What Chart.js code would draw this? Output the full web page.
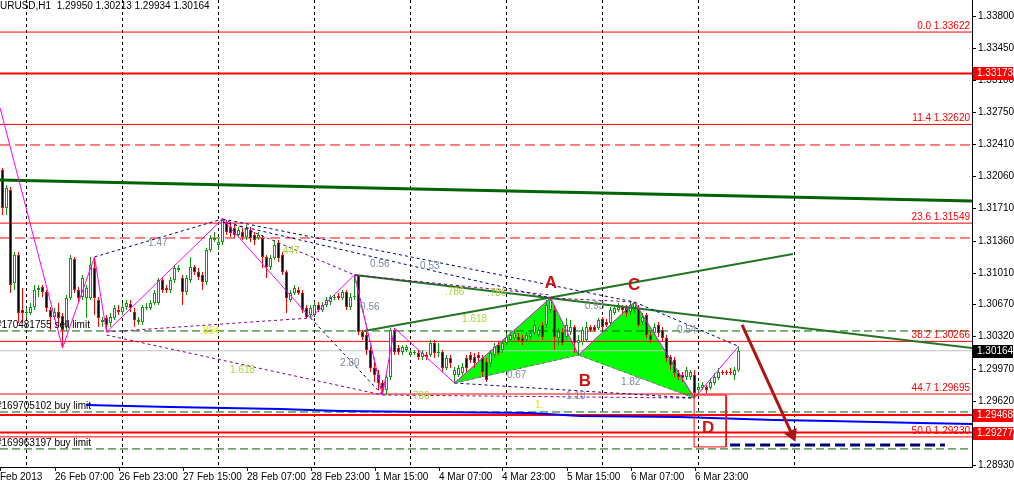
<!DOCTYPE html>
<html>
<head>
<meta charset="utf-8">
<script src="https://cdn.jsdelivr.net/npm/chart.js@4.4.1/dist/chart.umd.min.js"></script>
<style>
  html, body { margin: 0; padding: 0; background: #fff; }
  canvas { display: block; }
</style>
</head>
<body>
<canvas id="chart" width="1014" height="486"></canvas>
<script>
// EURUSD H1, one row per bar: [open, high, low, close]
const candles = [
  [1.32126,1.32147,1.31637,1.31713],[1.31713,1.31963,1.31637,1.31930],[1.31909,1.31941,1.30791,1.30878],
  [1.30900,1.31236,1.30824,1.31203],[1.31203,1.31236,1.30466,1.30574],[1.30607,1.30845,1.30466,1.30574],
  [1.30574,1.30628,1.30520,1.30585],[1.30574,1.30682,1.30552,1.30639],[1.30639,1.30878,1.30607,1.30824],
  [1.30824,1.30878,1.30748,1.30845],[1.30856,1.30878,1.30748,1.30802],[1.30802,1.30824,1.30585,1.30628],
  [1.30607,1.30639,1.30390,1.30531],[1.30531,1.30628,1.30498,1.30585],[1.30585,1.30682,1.30422,1.30520],
  [1.30541,1.30574,1.30194,1.30390],[1.30422,1.30769,1.30390,1.30737],[1.30737,1.31203,1.30715,1.31171],
  [1.31160,1.31182,1.30791,1.30824],[1.30824,1.30856,1.30682,1.30737],[1.30748,1.30986,1.30715,1.30954],
  [1.30737,1.30878,1.30520,1.30845],[1.30737,1.31182,1.30715,1.31095],[1.31062,1.31182,1.30552,1.30737],
  [1.30715,1.30748,1.30422,1.30520],[1.30476,1.30531,1.30422,1.30498],[1.30520,1.30552,1.30368,1.30444],
  [1.30466,1.30574,1.30422,1.30531],[1.30520,1.30661,1.30498,1.30628],[1.30607,1.30661,1.30552,1.30585],
  [1.30585,1.30682,1.30552,1.30639],[1.30639,1.30715,1.30607,1.30682],[1.30672,1.30715,1.30585,1.30628],
  [1.30585,1.30628,1.30422,1.30498],[1.30476,1.30531,1.30444,1.30498],[1.30476,1.30661,1.30444,1.30639],
  [1.30628,1.30682,1.30607,1.30639],[1.30628,1.30715,1.30607,1.30682],[1.30682,1.30824,1.30661,1.30791],
  [1.30682,1.30954,1.30661,1.30932],[1.30932,1.30954,1.30791,1.30824],[1.30845,1.30878,1.30791,1.30824],
  [1.30824,1.30965,1.30791,1.30932],[1.30932,1.31095,1.30900,1.31062],[1.31041,1.31095,1.31019,1.31062],
  [1.30954,1.30986,1.30661,1.30802],[1.30802,1.30986,1.30769,1.30954],[1.30932,1.31182,1.30900,1.31073],
  [1.31073,1.31095,1.30986,1.31019],[1.31019,1.31062,1.30932,1.30965],[1.30986,1.31019,1.30824,1.30910],
  [1.30910,1.31279,1.30878,1.31258],[1.31258,1.31420,1.31236,1.31388],[1.31366,1.31453,1.31344,1.31388],
  [1.31312,1.31388,1.31258,1.31344],[1.31344,1.31594,1.31312,1.31583],[1.31561,1.31583,1.31420,1.31453],
  [1.31507,1.31561,1.31399,1.31442],[1.31496,1.31529,1.31388,1.31420],[1.31420,1.31507,1.31388,1.31475],
  [1.31453,1.31496,1.31366,1.31399],[1.31399,1.31529,1.31366,1.31496],[1.31475,1.31507,1.31344,1.31388],
  [1.31420,1.31453,1.31312,1.31366],[1.31388,1.31453,1.31366,1.31420],[1.31388,1.31420,1.31062,1.31182],
  [1.31182,1.31203,1.30954,1.31073],[1.31073,1.31203,1.31041,1.31171],[1.31171,1.31366,1.31149,1.31312],
  [1.31334,1.31366,1.31127,1.31171],[1.31203,1.31236,1.30986,1.31019],[1.31019,1.31041,1.30574,1.30737],
  [1.30715,1.30824,1.30693,1.30791],[1.30791,1.30878,1.30769,1.30845],[1.30824,1.30856,1.30769,1.30791],
  [1.30791,1.30824,1.30574,1.30607],[1.30628,1.30661,1.30520,1.30531],[1.30552,1.30661,1.30520,1.30628],
  [1.30552,1.30693,1.30531,1.30661],[1.30661,1.30693,1.30585,1.30607],[1.30607,1.30693,1.30585,1.30661],
  [1.30661,1.30748,1.30639,1.30715],[1.30693,1.30769,1.30661,1.30748],[1.30737,1.30769,1.30715,1.30748],
  [1.30758,1.30791,1.30715,1.30737],[1.30737,1.30824,1.30715,1.30802],[1.30802,1.30824,1.30607,1.30639],
  [1.30639,1.30791,1.30607,1.30748],[1.30748,1.30986,1.30715,1.30748],[1.30986,1.30986,1.30335,1.30368],
  [1.30368,1.30390,1.30281,1.30314],[1.30335,1.30368,1.30118,1.30173],[1.30173,1.30205,1.29934,1.29977],
  [1.29977,1.30042,1.29825,1.29901],[1.29901,1.29955,1.29738,1.29814],[1.29814,1.29847,1.29684,1.29760],
  [1.29738,1.29901,1.29684,1.29879],[1.29879,1.30411,1.29847,1.30390],[1.30390,1.30411,1.30118,1.30151],
  [1.30194,1.30227,1.30118,1.30151],[1.30151,1.30227,1.30118,1.30205],[1.30173,1.30227,1.30151,1.30205],
  [1.30118,1.30173,1.30097,1.30151],[1.30140,1.30173,1.30118,1.30151],[1.30140,1.30173,1.30064,1.30097],
  [1.30097,1.30173,1.30064,1.30140],[1.30118,1.30151,1.30064,1.30097],[1.30118,1.30281,1.30097,1.30249],
  [1.30249,1.30281,1.30086,1.30140],[1.30140,1.30249,1.30097,1.30140],[1.30151,1.30173,1.29934,1.29977],
  [1.29977,1.30118,1.29955,1.30086],[1.30086,1.30118,1.29977,1.30031],[1.29901,1.29988,1.29814,1.29955],
  [1.29901,1.30010,1.29879,1.29977],[1.29923,1.30031,1.29901,1.29988],[1.30086,1.30118,1.29934,1.29977],
  [1.30118,1.30151,1.30031,1.30064],[1.30097,1.30140,1.29977,1.30031],[1.30118,1.30151,1.30042,1.30086],
  [1.30086,1.30118,1.29879,1.29934],[1.30042,1.30086,1.29825,1.29847],[1.30031,1.30173,1.29988,1.30140],
  [1.30118,1.30249,1.30086,1.30205],[1.30227,1.30259,1.30118,1.30140],[1.30173,1.30281,1.30140,1.30249],
  [1.30249,1.30357,1.30227,1.30314],[1.30281,1.30368,1.30259,1.30335],[1.30303,1.30390,1.30281,1.30357],
  [1.30314,1.30357,1.30259,1.30281],[1.30303,1.30335,1.30227,1.30259],[1.30281,1.30368,1.30259,1.30335],
  [1.30314,1.30390,1.30281,1.30357],[1.30357,1.30498,1.30335,1.30444],[1.30335,1.30422,1.30314,1.30390],
  [1.30444,1.30476,1.30281,1.30314],[1.30444,1.30715,1.30411,1.30661],[1.30607,1.30737,1.30574,1.30715],
  [1.30607,1.30661,1.30173,1.30314],[1.30303,1.30411,1.30227,1.30368],[1.30368,1.30411,1.30227,1.30249],
  [1.30314,1.30520,1.30281,1.30444],[1.30368,1.30498,1.30335,1.30422],[1.30422,1.30444,1.30140,1.30249],
  [1.30249,1.30335,1.30118,1.30281],[1.30259,1.30422,1.30227,1.30390],[1.30281,1.30476,1.30259,1.30422],
  [1.30422,1.30444,1.30368,1.30390],[1.30422,1.30444,1.30368,1.30390],[1.30411,1.30520,1.30390,1.30498],
  [1.30509,1.30531,1.30390,1.30422],[1.30476,1.30509,1.30422,1.30444],[1.30466,1.30639,1.30444,1.30607],
  [1.30574,1.30661,1.30552,1.30628],[1.30607,1.30682,1.30585,1.30639],[1.30639,1.30661,1.30574,1.30607],
  [1.30628,1.30661,1.30531,1.30574],[1.30585,1.30693,1.30552,1.30661],[1.30607,1.30693,1.30574,1.30682],
  [1.30628,1.30661,1.30422,1.30444],[1.30476,1.30574,1.30444,1.30531],[1.30552,1.30574,1.30303,1.30335],
  [1.30335,1.30368,1.30249,1.30281],[1.30357,1.30466,1.30335,1.30422],[1.30444,1.30476,1.30314,1.30357],
  [1.30390,1.30422,1.30259,1.30303],[1.30303,1.30335,1.30042,1.30086],[1.30097,1.30118,1.29955,1.30010],
  [1.30064,1.30097,1.29879,1.29923],[1.29923,1.29955,1.29847,1.29879],[1.29901,1.29934,1.29825,1.29868],
  [1.29879,1.29988,1.29847,1.29955],[1.29879,1.29955,1.29847,1.29934],[1.29901,1.29955,1.29651,1.29705],
  [1.29738,1.29814,1.29684,1.29770],[1.29760,1.29825,1.29738,1.29792],[1.29770,1.29792,1.29705,1.29738],
  [1.29760,1.29868,1.29738,1.29825],[1.29814,1.29923,1.29792,1.29879],[1.29868,1.29977,1.29847,1.29934],
  [1.29934,1.29955,1.29901,1.29923],[1.29934,1.29955,1.29901,1.29923],[1.29934,1.29977,1.29901,1.29923],
  [1.29901,1.29988,1.29847,1.29955],[1.29950,1.30213,1.29934,1.30164]
];

// time axis (bar index -> label), day separators and price ticks
const timeTicks = [-0.6, 13, 29, 45, 61, 77, 93, 109, 125, 141, 157, 173];
const timeLabels = ['Feb 2013', '26 Feb 07:00', '26 Feb 23:00', '27 Feb 15:00', '28 Feb 07:00', '28 Feb 23:00',
  '1 Mar 15:00', '4 Mar 07:00', '4 Mar 23:00', '5 Mar 15:00', '6 Mar 07:00', '6 Mar 23:00'];
const daySeparators = [6, 30, 54, 78, 102, 126, 150, 174, 198];
const priceTicks = [1.33800, 1.33450, 1.33100, 1.32750, 1.32410, 1.32060, 1.31710, 1.31360, 1.31010,
  1.30670, 1.30320, 1.29970, 1.29620, 1.29270, 1.28930];

// horizontal levels
const fibLevels = ['0.0', '11.4', '23.6', '38.2', '44.7', '50.0'];
const fibPrices = [1.33622, 1.32620, 1.31549, 1.30266, 1.29695, 1.29230];
const boldRedPrices = [1.33173, 1.29468, 1.29277];
const dashRedPrices = [1.32397, 1.31388];
const orderPrices = [1.30379, 1.29500, 1.29099];
const orderNames = ['#170481755 sell limit', '#169705102 buy limit', '#169963197 buy limit'];
const lastPrice = 1.30164;

// swing line and XABCD pattern
const zigzagIdx = [-0.6, 15, 23, 26, 55, 77, 88, 95, 98, 113, 137, 144, 158, 173, 184];
const zigzagPrice = [1.32798, 1.30194, 1.31182, 1.30368, 1.31594, 1.30520, 1.30986, 1.29684, 1.30411,
  1.29814, 1.30737, 1.30118, 1.30693, 1.29651, 1.30213];
const patternXAB = [[113, 1.29814], [137, 1.30737], [144, 1.30118], [113, 1.29814]];
const patternBCD = [[144, 1.30118], [158, 1.30693], [173, 1.29651], [144, 1.30118]];
const patternBase = [[113, 1.29814, 144, 1.30118], [144, 1.30118, 173, 1.29651]];

// ratio projection lines [idx1, price1, idx2, price2]
const navyLines = [
  [23, 1.31182, 55, 1.31594], [55, 1.31594, 158, 1.30693], [55, 1.31561, 137, 1.30737],
  [88, 1.30986, 95, 1.29684], [77, 1.30520, 95, 1.29684], [113, 1.29814, 173, 1.29651],
  [158, 1.30693, 184, 1.30213]
];
const purpleLines = [
  [26, 1.30368, 77, 1.30520], [26, 1.30335, 95, 1.29684], [55, 1.31594, 88, 1.30986],
  [95, 1.29684, 173, 1.29651], [88, 1.30986, 137, 1.30770], [137, 1.30737, 158, 1.30693]
];

// trend lines
const longGreen = [[-0.7, 1.32017], [242.4, 1.31790]];
const trendUp = [[90.4, 1.30379], [197.6, 1.31214]];
const trendDown = [[88.1, 1.30986], [242.4, 1.30194]];
const blueIdx = [20.9, 41.9, 69.4, 84.4, 106.9, 131.9, 144.4, 169.4, 193.1, 206.9, 229.4, 242.4];
const bluePrice = [1.29576, 1.29554, 1.29532, 1.29511, 1.29500, 1.29489, 1.29456, 1.29446, 1.29413,
  1.29402, 1.29380, 1.29370];
const targetBox = [[172.9, 1.29684], [180.9, 1.29684], [180.9, 1.29121], [172.9, 1.29121], [172.9, 1.29684]];
const arrowPath = [[184.9, 1.30444], [197.4, 1.29255]];
const targetZone = [[181.9, 1.29142], [235.6, 1.29142]];

// text notes
const noteText = ['1.47', '.854', '447', '1.618', '2.80', '0.56', '0.56', '0.53', '.786', '.786', '1.618',
  '0.67', '.786', '1.', '1.18', '0.93', '1.82', '0.54'];
const noteIdx = [36.4, 49.4, 70.1, 56.9, 84.4, 89.4, 91.9, 104.4, 110.6, 121.1, 114.9, 126.1, 101.9, 133.1,
  140.9, 145.6, 154.6, 168.6];
const notePrice = [1.31334, 1.30379, 1.31247, 1.29955, 1.30031, 1.30639, 1.31106, 1.31084, 1.30802, 1.30791,
  1.30509, 1.29901, 1.29673, 1.29576, 1.29673, 1.30650, 1.29825, 1.30390];
const noteTone = ['grey', 'yellow', 'lime', 'lime', 'grey', 'grey', 'grey', 'grey', 'lime', 'lime', 'lime',
  'grey', 'lime', 'yellow', 'grey', 'grey', 'grey', 'grey'];
const pointNames = ['A', 'B', 'C', 'D'];
const pointIdx = [137.1, 145.6, 157.9, 176.4];
const pointPrice = [1.30900, 1.29836, 1.30878, 1.29326];

const title = 'URUSD,H1  1.29950 1.30213 1.29934 1.30164';

const X_MIN = -0.625, X_MAX = 242.375;
const Y_MIN = 1.28903, Y_MAX = 1.33970;
const FONT = '"Liberation Sans", Arial, sans-serif';
const toneColor = { grey: '#7f8a99', yellow: '#e6e600', lime: '#a8d43a' };

const BULL = '#0a9a0a', BEAR = '#ff0000';

function line(points, color, width, dash, order, extra) {
  return Object.assign({
    type: 'line',
    data: points.map(p => ({ x: p[0], y: p[1] })),
    borderColor: color,
    borderWidth: width,
    borderDash: dash || [],
    pointRadius: 0,
    fill: false,
    tension: 0,
    order: order,
    xAxisID: 'x',
    yAxisID: 'y'
  }, extra || {});
}
const fullWidth = p => [[X_MIN, p], [X_MAX, p]];
const noPad = s => { s.paddingLeft = 0; s.paddingRight = 0; s.paddingTop = 0; s.paddingBottom = 0; };

const datasets = [];

// pattern fills (bottom)
datasets.push(line(patternXAB, '#00ff00', 1, [], 30, { fill: 'shape', backgroundColor: '#00ff00' }));
datasets.push(line(patternBCD, '#00ff00', 1, [], 30, { fill: 'shape', backgroundColor: '#00ff00' }));

// horizontal levels
fibPrices.forEach(p => datasets.push(line(fullWidth(p), '#ff0000', 1, [], 20)));
dashRedPrices.forEach(p => datasets.push(line(fullWidth(p), '#ff0000', 1, [10, 5], 20)));
orderPrices.forEach(p => datasets.push(line(fullWidth(p), '#006400', 1, [8, 4], 20)));
datasets.push(line(fullWidth(lastPrice), '#c0c0c0', 1, [], 21));
boldRedPrices.forEach(p => datasets.push(line(fullWidth(p), '#ff0000', 2, [], 19)));

// candles: wicks then bodies
datasets.push({
  type: 'bar',
  data: candles.map((c, i) => ({ x: i, y: [c[2], c[1]] })),
  backgroundColor: candles.map(c => c[3] >= c[0] ? BULL : BEAR),
  barThickness: 1, grouped: false, borderWidth: 0, inflateAmount: 0,
  order: 11, xAxisID: 'x', yAxisID: 'y'
});
datasets.push({
  type: 'bar',
  data: candles.map((c, i) => ({ x: i, y: [Math.min(c[0], c[3]), Math.max(c[0], c[3])] })),
  backgroundColor: candles.map(c => c[3] >= c[0] ? '#ffffff' : '#000000'),
  borderColor: candles.map(c => c[3] >= c[0] ? BULL : BEAR),
  borderWidth: 1, borderSkipped: false, minBarLength: 1,
  barThickness: 3, grouped: false, inflateAmount: 0,
  order: 10, xAxisID: 'x', yAxisID: 'y'
});

// trend lines and blue average
datasets.push(line(longGreen, '#006400', 3, [], 9));
datasets.push(line(trendUp, '#237523', 2, [], 8));
datasets.push(line(trendDown, '#237523', 2, [], 8));
datasets.push(line(blueIdx.map((x, i) => [x, bluePrice[i]]), '#0000ff', 2, [], 9));

// projections
navyLines.forEach(s => datasets.push(line([[s[0], s[1]], [s[2], s[3]]], '#000080', 1, [3, 3], 7)));
purpleLines.forEach(s => datasets.push(line([[s[0], s[1]], [s[2], s[3]]], '#800080', 1, [3, 3], 7)));
patternBase.forEach(s => datasets.push(line([[s[0], s[1]], [s[2], s[3]]], '#cc33cc', 1, [3, 3], 6)));
datasets.push(line(zigzagIdx.map((x, i) => [x, zigzagPrice[i]]), '#ff00ff', 1, [], 5));

// target box, arrow and target zone
datasets.push(line(targetBox, '#ff0000', 1, [], 4));
datasets.push(line(targetZone, '#00007a', 3, [10, 5], 3));
datasets.push(line(arrowPath, '#b01515', 3, [], 2, {
  pointRadius: [0, 8], pointStyle: 'triangle', pointRotation: [0, 155],
  pointBackgroundColor: '#b01515', pointBorderColor: '#b01515', pointBorderWidth: 0
}));

const notesPlugin = {
  id: 'notes',
  afterDatasetsDraw(chart) {
    const { ctx, chartArea: a } = chart;
    const x = chart.scales.x, y = chart.scales.y;
    ctx.save();
    ctx.beginPath();
    ctx.rect(a.left, a.top, a.right - a.left, a.bottom - a.top);
    ctx.clip();

    ctx.font = '10px ' + FONT;
    ctx.textBaseline = 'middle';
    ctx.textAlign = 'left';
    noteText.forEach((t, i) => {
      ctx.fillStyle = toneColor[noteTone[i]];
      ctx.fillText(t, x.getPixelForValue(noteIdx[i]), y.getPixelForValue(notePrice[i]));
    });

    ctx.fillStyle = '#ff0000';
    ctx.textAlign = 'right';
    ctx.textBaseline = 'bottom';
    fibPrices.forEach((p, i) => {
      ctx.fillText(fibLevels[i] + ' ' + p.toFixed(5), a.right - 2, y.getPixelForValue(p) - 1);
    });

    ctx.fillStyle = '#000000';
    ctx.textAlign = 'left';
    orderPrices.forEach((p, i) => {
      ctx.fillText(orderNames[i], a.left - 4, y.getPixelForValue(p) - 1);
    });

    ctx.font = 'bold 17px ' + FONT;
    ctx.fillStyle = '#cc1414';
    ctx.textAlign = 'center';
    ctx.textBaseline = 'middle';
    pointNames.forEach((t, i) => {
      ctx.fillText(t, x.getPixelForValue(pointIdx[i]), y.getPixelForValue(pointPrice[i]));
    });
    ctx.restore();
  },
  afterDraw(chart) {
    const { ctx, chartArea: a } = chart;
    const x = chart.scales.x, y = chart.scales.y;
    ctx.save();
    ctx.font = '10px ' + FONT;
    ctx.fillStyle = '#000000';
    ctx.strokeStyle = '#000000';
    ctx.lineWidth = 1;

    // price axis ticks
    ctx.textAlign = 'left';
    ctx.textBaseline = 'middle';
    priceTicks.forEach(v => {
      const py = Math.round(y.getPixelForValue(v)) + 0.5;
      ctx.beginPath(); ctx.moveTo(a.right, py); ctx.lineTo(a.right + 4, py); ctx.stroke();
      ctx.fillText(v.toFixed(5), a.right + 6, py);
    });

    // time axis ticks
    ctx.textBaseline = 'top';
    timeTicks.forEach((v, i) => {
      const px = Math.max(Math.round(x.getPixelForValue(v)), 0) + 0.5;
      ctx.beginPath(); ctx.moveTo(px, a.bottom); ctx.lineTo(px, a.bottom + 4); ctx.stroke();
      ctx.fillText(timeLabels[i], px - 0.5, a.bottom + 5);
    });

    // price boxes on the axis
    ctx.textBaseline = 'middle';
    const boxes = boldRedPrices.map(p => [p, '#ff0000']).concat([[lastPrice, '#000000']]);
    boxes.forEach(b => {
      const py = Math.round(y.getPixelForValue(b[0]));
      ctx.fillStyle = b[1];
      ctx.fillRect(a.right + 1, py - 6, 40, 13);
      ctx.fillStyle = '#ffffff';
      ctx.fillText(b[0].toFixed(5), a.right + 5, py + 0.5);
    });

    ctx.fillStyle = '#000000';
    ctx.textBaseline = 'top';
    ctx.fillText(title, 0, 1);
    ctx.restore();
  }
};

new Chart(document.getElementById('chart'), {
  data: { datasets: datasets },
  options: {
    responsive: false,
    animation: false,
    devicePixelRatio: 1,
    layout: { padding: 0, autoPadding: false },
    plugins: { legend: { display: false }, tooltip: { enabled: false } },
    scales: {
      x: {
        type: 'linear', position: 'bottom', min: X_MIN, max: X_MAX, offset: false,
        afterFit: s => { s.height = 19; noPad(s); },
        ticks: { display: false },
        grid: { display: false, offset: false },
        border: { color: '#000' }
      },
      xs: {
        type: 'linear', position: 'top', min: X_MIN, max: X_MAX, offset: false,
        afterBuildTicks: s => { s.ticks = daySeparators.map(v => ({ value: v })); },
        afterFit: s => { s.height = 0; noPad(s); },
        ticks: { display: false },
        grid: { drawTicks: false, color: '#000', lineWidth: 1 },
        border: { display: false, dash: [3, 3] }
      },
      y: {
        type: 'linear', position: 'right', min: Y_MIN, max: Y_MAX,
        afterFit: s => { s.width = 42; noPad(s); },
        ticks: { display: false },
        grid: { display: false },
        border: { color: '#000' }
      }
    }
  },
  plugins: [notesPlugin]
});
</script>
</body>
</html>
